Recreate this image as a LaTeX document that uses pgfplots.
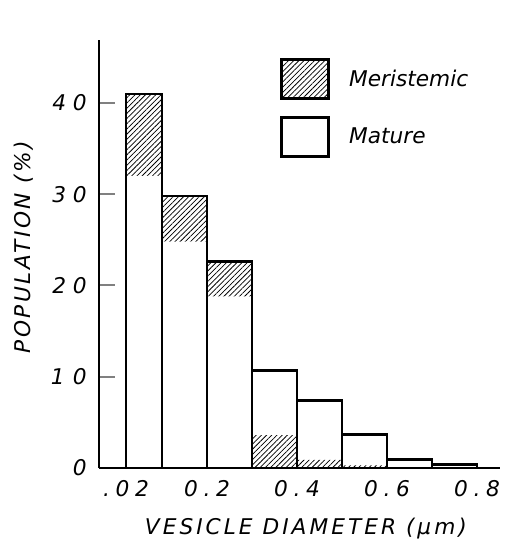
\documentclass[border=0pt]{standalone}
\usepackage{pgfplots}
\pgfplotsset{compat=1.18}
\usetikzlibrary{patterns.meta}
\usepackage{fontspec}
\setmainfont{DejaVu Sans}

\newcommand{\lbl}{\fontsize{13}{15}\selectfont\itshape}
\newcommand{\wlbl}{\lbl\addfontfeatures{LetterSpace=12}}
\newcommand{\xwlbl}{\lbl\addfontfeatures{LetterSpace=14}}
\newcommand{\s}{\kern3.4pt}
\tikzset{hatch/.style={pattern={Lines[angle=45,distance=2.2pt,line width=0.45pt]}}}

\begin{document}
\begin{tikzpicture}
\begin{axis}[
    scale only axis, width=240.6pt, height=256.8pt,
    xmin=-0.04, xmax=0.851, ymin=0, ymax=46.9,
    axis x line*=bottom, axis y line*=left,
    axis line style={-, line width=1.2pt},
    xtick={0.02,0.2,0.4,0.6,0.8},
    xticklabels={.\s0\s2,0\s.\s2,0\s.\s4,0\s.\s6,0\s.\s8},
    x tick label as interval=false,
    xtick style={draw=none},
    ytick={0,10,20,30,40},
    yticklabels={0,1\kern5pt0,2\kern4pt0,3\kern4pt0,4\kern4pt0},
    ytick pos=left,
    ytick style={line width=1.2pt},
    % negative length turns the ticks into the plot area
    tick align=outside, major tick length=-9.6pt,
    tick label style={font=\lbl},
    xticklabel style={anchor=center, yshift=-22.2pt},
    yticklabel style={anchor=east, inner sep=0pt, xshift=-16.8pt},
    xlabel={VESICLE DIAMETER (μm)},
    ylabel={POPULATION (\%)},
    every axis x label/.style={at={(axis description cs:0.516,-0.142)}, anchor=center, font=\xwlbl},
    every axis y label/.style={at={(axis description cs:-0.187,0.516)}, rotate=90, anchor=center, font=\wlbl},
    legend style={draw=none, fill=none, at={(0.451,0.958)}, anchor=north west,
        inner sep=0pt, row sep=9.6pt, font=\lbl},
    legend cell align=left,
    /tikz/every odd column/.style={column sep=9.6pt},
]
\addlegendimage{legend image code/.code={
    \draw[black, line width=1.6pt, hatch] (0pt,-11.7pt) rectangle (28.2pt,11.7pt);}}
\addlegendentry{Meristemic}
\addlegendimage{legend image code/.code={
    \draw[black, line width=1.6pt, fill=white] (0pt,-11.7pt) rectangle (28.2pt,11.7pt);}}
\addlegendentry{Mature}

% meristemic, bins where it is the taller series
\addplot[ybar interval, forget plot, draw=none, hatch] coordinates {
    (0.02,41) (0.1,29.8) (0.2,22.6) (0.3,0)
};
% mature in front of it
\addplot[ybar interval, forget plot, draw=none, fill=white] coordinates {
    (0.02,32) (0.1,24.8) (0.2,18.8) (0.3,0)
};
% meristemic, bins where it is the smaller series
\addplot[ybar interval, forget plot, draw=none, hatch] coordinates {
    (0.3,3.6) (0.4,0.9) (0.5,0.3) (0.6,0)
};
% outlines
\addplot[ybar interval, forget plot, draw=black, line width=1.6pt, fill=none] coordinates {
    (0.02,41) (0.1,29.8) (0.2,22.6) (0.3,0)
};
\addplot[ybar interval, forget plot, draw=black, line width=1.6pt, fill=none] coordinates {
    (0.3,10.7) (0.4,7.4) (0.5,3.7) (0.6,0.9) (0.7,0.4) (0.8,0)
};
\end{axis}
\pgfresetboundingbox
\path (current axis.south west) ++(-59.4pt,-43.8pt) rectangle ++(304.2pt,324.6pt);
\end{tikzpicture}
\end{document}
